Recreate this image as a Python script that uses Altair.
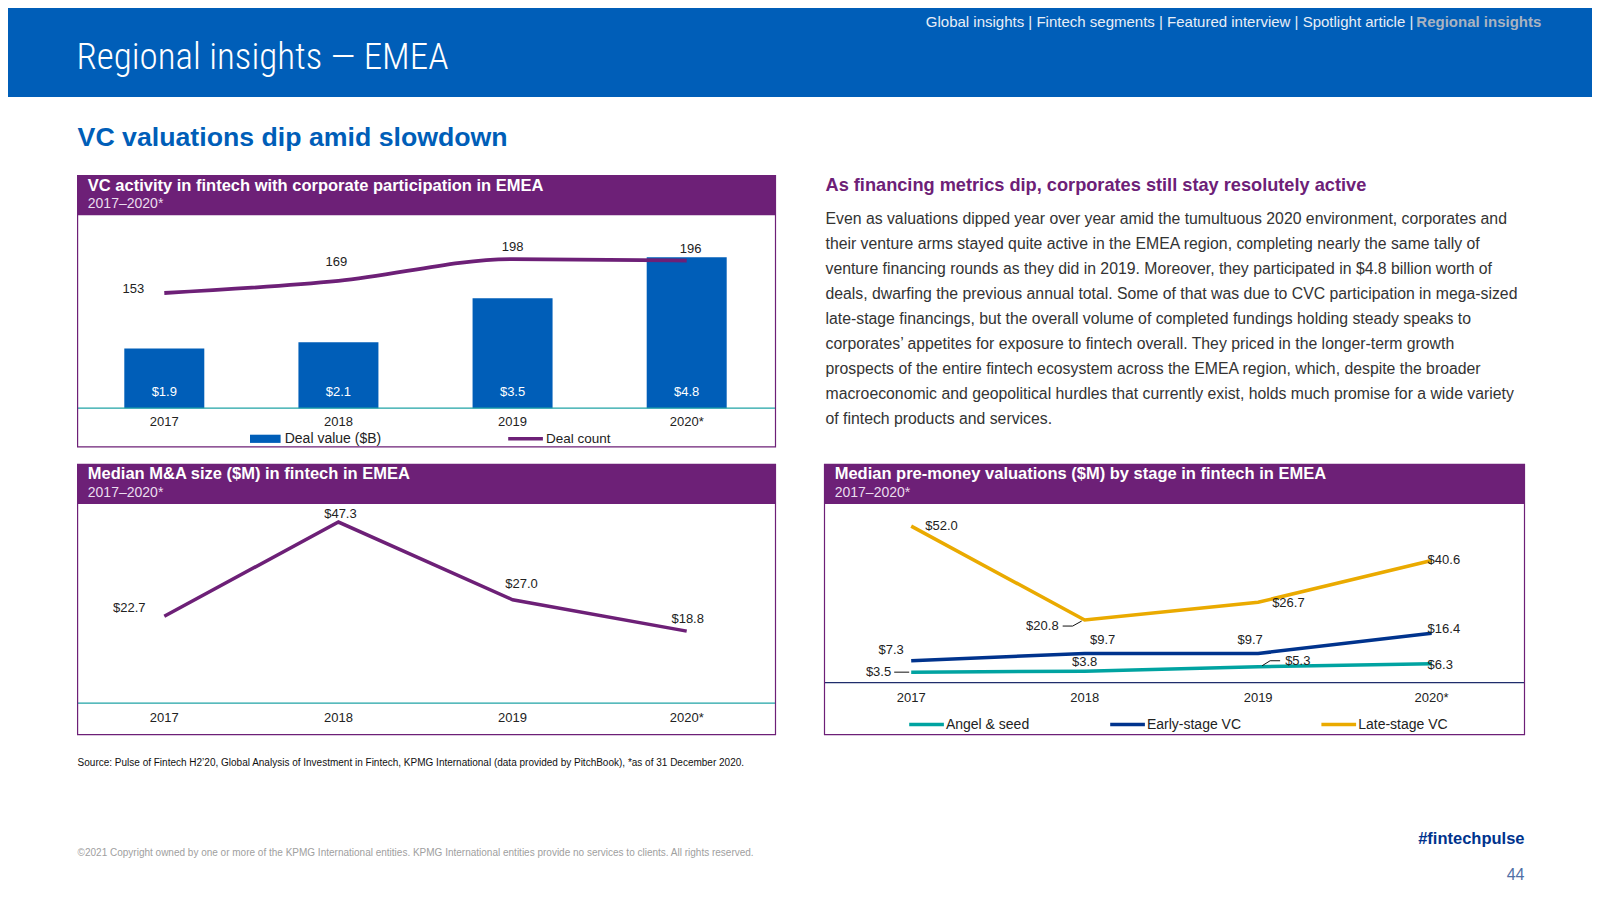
import altair as alt
import pandas as pd

# ---------------- data ----------------
years = ["2017", "2018", "2019", "2020*"]
deal_value = [1.9, 2.1, 3.5, 4.8]          # $B
deal_count = [153, 169, 198, 196]
ma_size = [22.7, 47.3, 27.0, 18.8]          # $M
angel_seed = [3.5, 3.8, 5.3, 6.3]
early_vc = [7.3, 9.7, 9.7, 16.4]
late_vc = [52.0, 20.8, 26.7, 40.6]
stages = ["Angel & seed", "Early-stage VC", "Late-stage VC"]
stage_colors = ["#00A3A1", "#00338D", "#EAAA00"]

nav_items = ["Global insights", "Fintech segments", "Featured interview", "Spotlight article"]
nav_current = "Regional insights"

paragraph = [
    "Even as valuations dipped year over year amid the tumultuous 2020 environment, corporates and",
    "their venture arms stayed quite active in the EMEA region, completing nearly the same tally of",
    "venture financing rounds as they did in 2019. Moreover, they participated in $4.8 billion worth of",
    "deals, dwarfing the previous annual total. Some of that was due to CVC participation in mega-sized",
    "late-stage financings, but the overall volume of completed fundings holding steady speaks to",
    "corporates\u2019 appetites for exposure to fintech overall. They priced in the longer-term growth",
    "prospects of the entire fintech ecosystem across the EMEA region, which, despite the broader",
    "macroeconomic and geopolitical hurdles that currently exist, holds much promise for a wide variety",
    "of fintech products and services.",
]

# ---------------- layout helpers ----------------
S = 1600 / 1568.0
def P(d):
    return round(d * S - 8, 1)

FONT = "Liberation Sans, Arial, sans-serif"
NARROW = "Liberation Sans Narrow, Roboto Condensed, Liberation Sans, sans-serif"
BLUE = "#005EB8"
PURPLE = "#6D2077"
TEAL = "#1FA3A6"
NAVY = "#00338D"
DARK = "#222222"

ONE = pd.DataFrame({"k": [0]})

def txt(t, x, y, size, color, weight="normal", align="left", font=FONT, baseline="middle"):
    return alt.Chart(ONE).mark_text(
        text=t, align=align, baseline=baseline, fontSize=size, color=color,
        fontWeight=weight, font=font
    ).encode(x=alt.value(x), y=alt.value(y))

def frect(x1, y1, x2, y2, fill):
    return alt.Chart(ONE).mark_rect(color=fill).encode(
        x=alt.value(x1), x2=alt.value(x2), y=alt.value(y1), y2=alt.value(y2))

def srect(x1, y1, x2, y2, stroke, sw=1.2):
    return alt.Chart(ONE).mark_rect(fillOpacity=0, stroke=stroke, strokeWidth=sw).encode(
        x=alt.value(x1), x2=alt.value(x2), y=alt.value(y1), y2=alt.value(y2))

def hrule(x1, x2, y, color, sw=1.0):
    return alt.Chart(ONE).mark_rule(color=color, strokeWidth=sw).encode(
        x=alt.value(x1), x2=alt.value(x2), y=alt.value(y), y2=alt.value(y))

def xscale(a, b):
    return alt.Scale(type="point", domain=years, range=[P(a), P(b)], padding=0)

def yscale(dom, zero_d, top_d):
    return alt.Scale(domain=dom, range=[P(zero_d), P(top_d)], zero=True, nice=False)

def pt_label(df, yfield, xsc, ysc, textfield, year, dx, dy, align="center",
             size=13, color=DARK, extra_filter=None):
    ch = alt.Chart(df).transform_filter(alt.datum.year == year)
    if extra_filter is not None:
        ch = ch.transform_filter(extra_filter)
    return ch.mark_text(dx=dx, dy=dy, align=align, baseline="middle", fontSize=size,
                        color=color, font=FONT).encode(
        x=alt.X("year:O", scale=xsc, axis=None),
        y=alt.Y(f"{yfield}:Q", scale=ysc, axis=None),
        text=f"{textfield}:N")

def year_labels(xsc, y):
    return alt.Chart(pd.DataFrame({"year": years})).mark_text(
        fontSize=13, color=DARK, font=FONT, baseline="middle").encode(
        x=alt.X("year:O", scale=xsc, axis=None), y=alt.value(y), text="year:N")

layers = []

# ---------------- header ----------------
layers.append(frect(0, 0, 1584, P(95), BLUE))
layers.append(txt("Regional insights \u2014 EMEA", P(75), P(68), 37, "#FFFFFF",
                  weight=300, font=NARROW, baseline="alphabetic"))
layers.append(txt(" | ".join(nav_items) + " |", P(1385), P(22), 15, "#E8EEF7", align="right"))
layers.append(txt(nav_current, P(1388), P(22), 15, "#A9B3C1", weight="bold"))
layers.append(txt("VC valuations dip amid slowdown", P(76), P(135), 26.7, BLUE, weight="bold"))

# ---------------- panel 1: VC activity ----------------
bx1, bx2 = P(76), P(760)
layers.append(frect(bx1, P(172), bx2, P(211), PURPLE))
layers.append(txt("VC activity in fintech with corporate participation in EMEA", P(86), P(182), 16.5,
                  "#FFFFFF", weight="bold"))
layers.append(txt("2017\u20132020*", P(86), P(200), 14, "#EADDEE"))

x1 = xscale(161, 673)
yv = yscale([0, 5], 400, 400 - 5 * 30.8)
yc = yscale([0, 200], 400, 400 - 200 * 0.738)
c1 = pd.DataFrame({
    "year": years, "value": deal_value, "count": deal_count,
    "vlabel": [f"${v:.1f}" for v in deal_value],
    "clabel": [str(c) for c in deal_count],
})
layers.append(alt.Chart(c1).mark_bar(size=80, color=BLUE).encode(
    x=alt.X("year:O", scale=x1, axis=None),
    y=alt.Y("value:Q", scale=yv, axis=None)))
layers.append(alt.Chart(c1).mark_text(fontSize=13, color="#FFFFFF", font=FONT, baseline="middle").encode(
    x=alt.X("year:O", scale=x1, axis=None), y=alt.value(P(384)), text="vlabel:N"))
layers.append(alt.Chart(c1).mark_line(color=PURPLE, strokeWidth=3.8, interpolate="monotone").encode(
    x=alt.X("year:O", scale=x1, axis=None),
    y=alt.Y("count:Q", scale=yc, axis=None)))
for yr, dx, dy in [("2017", -31, -4), ("2018", -2, -19), ("2019", 0, -12), ("2020*", 4, -12)]:
    layers.append(pt_label(c1, "count", x1, yc, "clabel", yr, dx, dy))
layers.append(hrule(bx1, bx2, P(400), TEAL, 1.2))
layers.append(year_labels(x1, P(414)))
# legend
layers.append(frect(P(245), P(426), P(275), P(434), BLUE))
layers.append(txt("Deal value ($B)", P(279), P(430), 14, DARK))
layers.append(hrule(P(498), P(532), P(430), PURPLE, 3.5))
layers.append(txt("Deal count", P(535), P(430), 13.5, DARK))
layers.append(srect(bx1, P(172), bx2, P(438), PURPLE))

# ---------------- panel 2: M&A size ----------------
layers.append(frect(bx1, P(455), bx2, P(494), PURPLE))
layers.append(txt("Median M&A size ($M) in fintech in EMEA", P(86), P(464), 16.5, "#FFFFFF", weight="bold"))
layers.append(txt("2017\u20132020*", P(86), P(483), 14, "#EADDEE"))
ym = yscale([0, 50], 689, 689 - 50 * 3.75)
c2 = pd.DataFrame({"year": years, "value": ma_size, "label": [f"${v:.1f}" for v in ma_size]})
layers.append(alt.Chart(c2).mark_line(color=PURPLE, strokeWidth=3.5).encode(
    x=alt.X("year:O", scale=x1, axis=None),
    y=alt.Y("value:Q", scale=ym, axis=None)))
for yr, dx, dy in [("2017", -35, -8), ("2018", 2, -8), ("2019", 9, -16), ("2020*", 1, -12)]:
    layers.append(pt_label(c2, "value", x1, ym, "label", yr, dx, dy))
layers.append(hrule(bx1, bx2, P(689), TEAL, 1.2))
layers.append(year_labels(x1, P(704)))
layers.append(srect(bx1, P(455), bx2, P(720), PURPLE))

# ---------------- right text ----------------
layers.append(txt("As financing metrics dip, corporates still stay resolutely active", P(809), P(182), 18.2,
                  PURPLE, weight="bold"))
para = pd.DataFrame({"i": list(range(len(paragraph))), "line": paragraph})
layers.append(alt.Chart(para).mark_text(align="left", baseline="middle", fontSize=15.8,
                                        color="#333333", font=FONT).encode(
    x=alt.value(P(809)),
    y=alt.Y("i:Q", scale=alt.Scale(domain=[0, 8], range=[P(215), P(411)], nice=False, zero=False), axis=None),
    text="line:N"))

# ---------------- panel 3: pre-money valuations ----------------
cx1, cx2 = P(808), P(1494)
layers.append(frect(cx1, P(455), cx2, P(494), PURPLE))
layers.append(txt("Median pre-money valuations ($M) by stage in fintech in EMEA", P(818), P(464), 16.5,
                  "#FFFFFF", weight="bold"))
layers.append(txt("2017\u20132020*", P(818), P(483), 14, "#EADDEE"))
x3 = xscale(893, 1403)
y3 = yscale([0, 60], 669, 669 - 60 * 2.95)
rows = []
for st, vals in zip(stages, [angel_seed, early_vc, late_vc]):
    for yr, v in zip(years, vals):
        rows.append({"stage": st, "year": yr, "value": v, "label": f"${v:.1f}"})
c3 = pd.DataFrame(rows)
layers.append(alt.Chart(c3).mark_line(strokeWidth=3.5).encode(
    x=alt.X("year:O", scale=x3, axis=None),
    y=alt.Y("value:Q", scale=y3, axis=None),
    color=alt.Color("stage:N", scale=alt.Scale(domain=stages, range=stage_colors), legend=None),
    order=alt.Order("year:O")))
nudges = {
    "Late-stage VC": [("2017", 14, 0, "left"), ("2018", -26, 6, "right"),
                      ("2019", 14, 1, "left"), ("2020*", -4, 0, "left")],
    "Early-stage VC": [("2017", -20, -11, "center"), ("2018", 18, -13, "center"),
                       ("2019", -8, -13, "center"), ("2020*", -4, -4, "left")],
    "Angel & seed": [("2017", -20, 0, "right"), ("2018", 0, -9, "center"),
                     ("2019", 27, -6, "left"), ("2020*", -4, 1, "left")],
}
for st, items in nudges.items():
    for yr, dx, dy, al in items:
        layers.append(pt_label(c3, "value", x3, y3, "label", yr, dx, dy, align=al,
                               extra_filter=alt.datum.stage == st))

def leader(st, yr, ox1, oy1, ox2, oy2):
    return alt.Chart(c3).transform_filter(
        (alt.datum.stage == st) & (alt.datum.year == yr)
    ).mark_rule(color="#111111", strokeWidth=1, xOffset=ox1, yOffset=oy1,
                x2Offset=ox2, y2Offset=oy2).encode(
        x=alt.X("year:O", scale=x3, axis=None), x2="year:O",
        y=alt.Y("value:Q", scale=y3, axis=None), y2="value:Q")

layers.append(leader("Late-stage VC", "2018", -22, 6, -12, 6))
layers.append(leader("Late-stage VC", "2018", -12, 6, -3, 1))
layers.append(leader("Angel & seed", "2017", -17, 0, -2, 0))
layers.append(leader("Angel & seed", "2019", 4, -1, 12, -6))
layers.append(leader("Angel & seed", "2019", 12, -6, 22, -6))

layers.append(hrule(cx1, cx2, P(669), "#1F2D6B", 1.2))
layers.append(year_labels(x3, P(684)))
for (a, b, t), col, st in zip([(891, 925, 927), (1088, 1122, 1124), (1295, 1329, 1331)], stage_colors, stages):
    layers.append(hrule(P(a), P(b), P(710), col, 3.5))
    layers.append(txt(st, P(t), P(710), 14, DARK))
layers.append(srect(cx1, P(455), cx2, P(720), PURPLE))

# ---------------- footer ----------------
layers.append(txt("Source: Pulse of Fintech H2\u201920, Global Analysis of Investment in Fintech, KPMG International "
                  "(data provided by PitchBook), *as of 31 December 2020.", P(76), P(748), 10, "#111111"))
layers.append(txt("\u00a92021 Copyright owned by one or more of the KPMG International entities. KPMG International "
                  "entities provide no services to clients. All rights reserved.", P(76), P(836), 10, "#A0A0A0"))
layers.append(txt("#fintechpulse", P(1494), P(822), 16.5, NAVY, weight="bold", align="right"))
layers.append(txt("44", P(1494), P(857), 16, "#4F6FA6", align="right"))

chart = alt.layer(*layers).resolve_scale(
    x="independent", y="independent", color="independent"
).properties(
    width=1584, height=884, padding=0,
    autosize=alt.AutoSizeParams(type="none"),
    background="#FFFFFF",
).configure_view(strokeWidth=0)

chart.save("out.html", embed_options={"renderer": "svg", "actions": False})
